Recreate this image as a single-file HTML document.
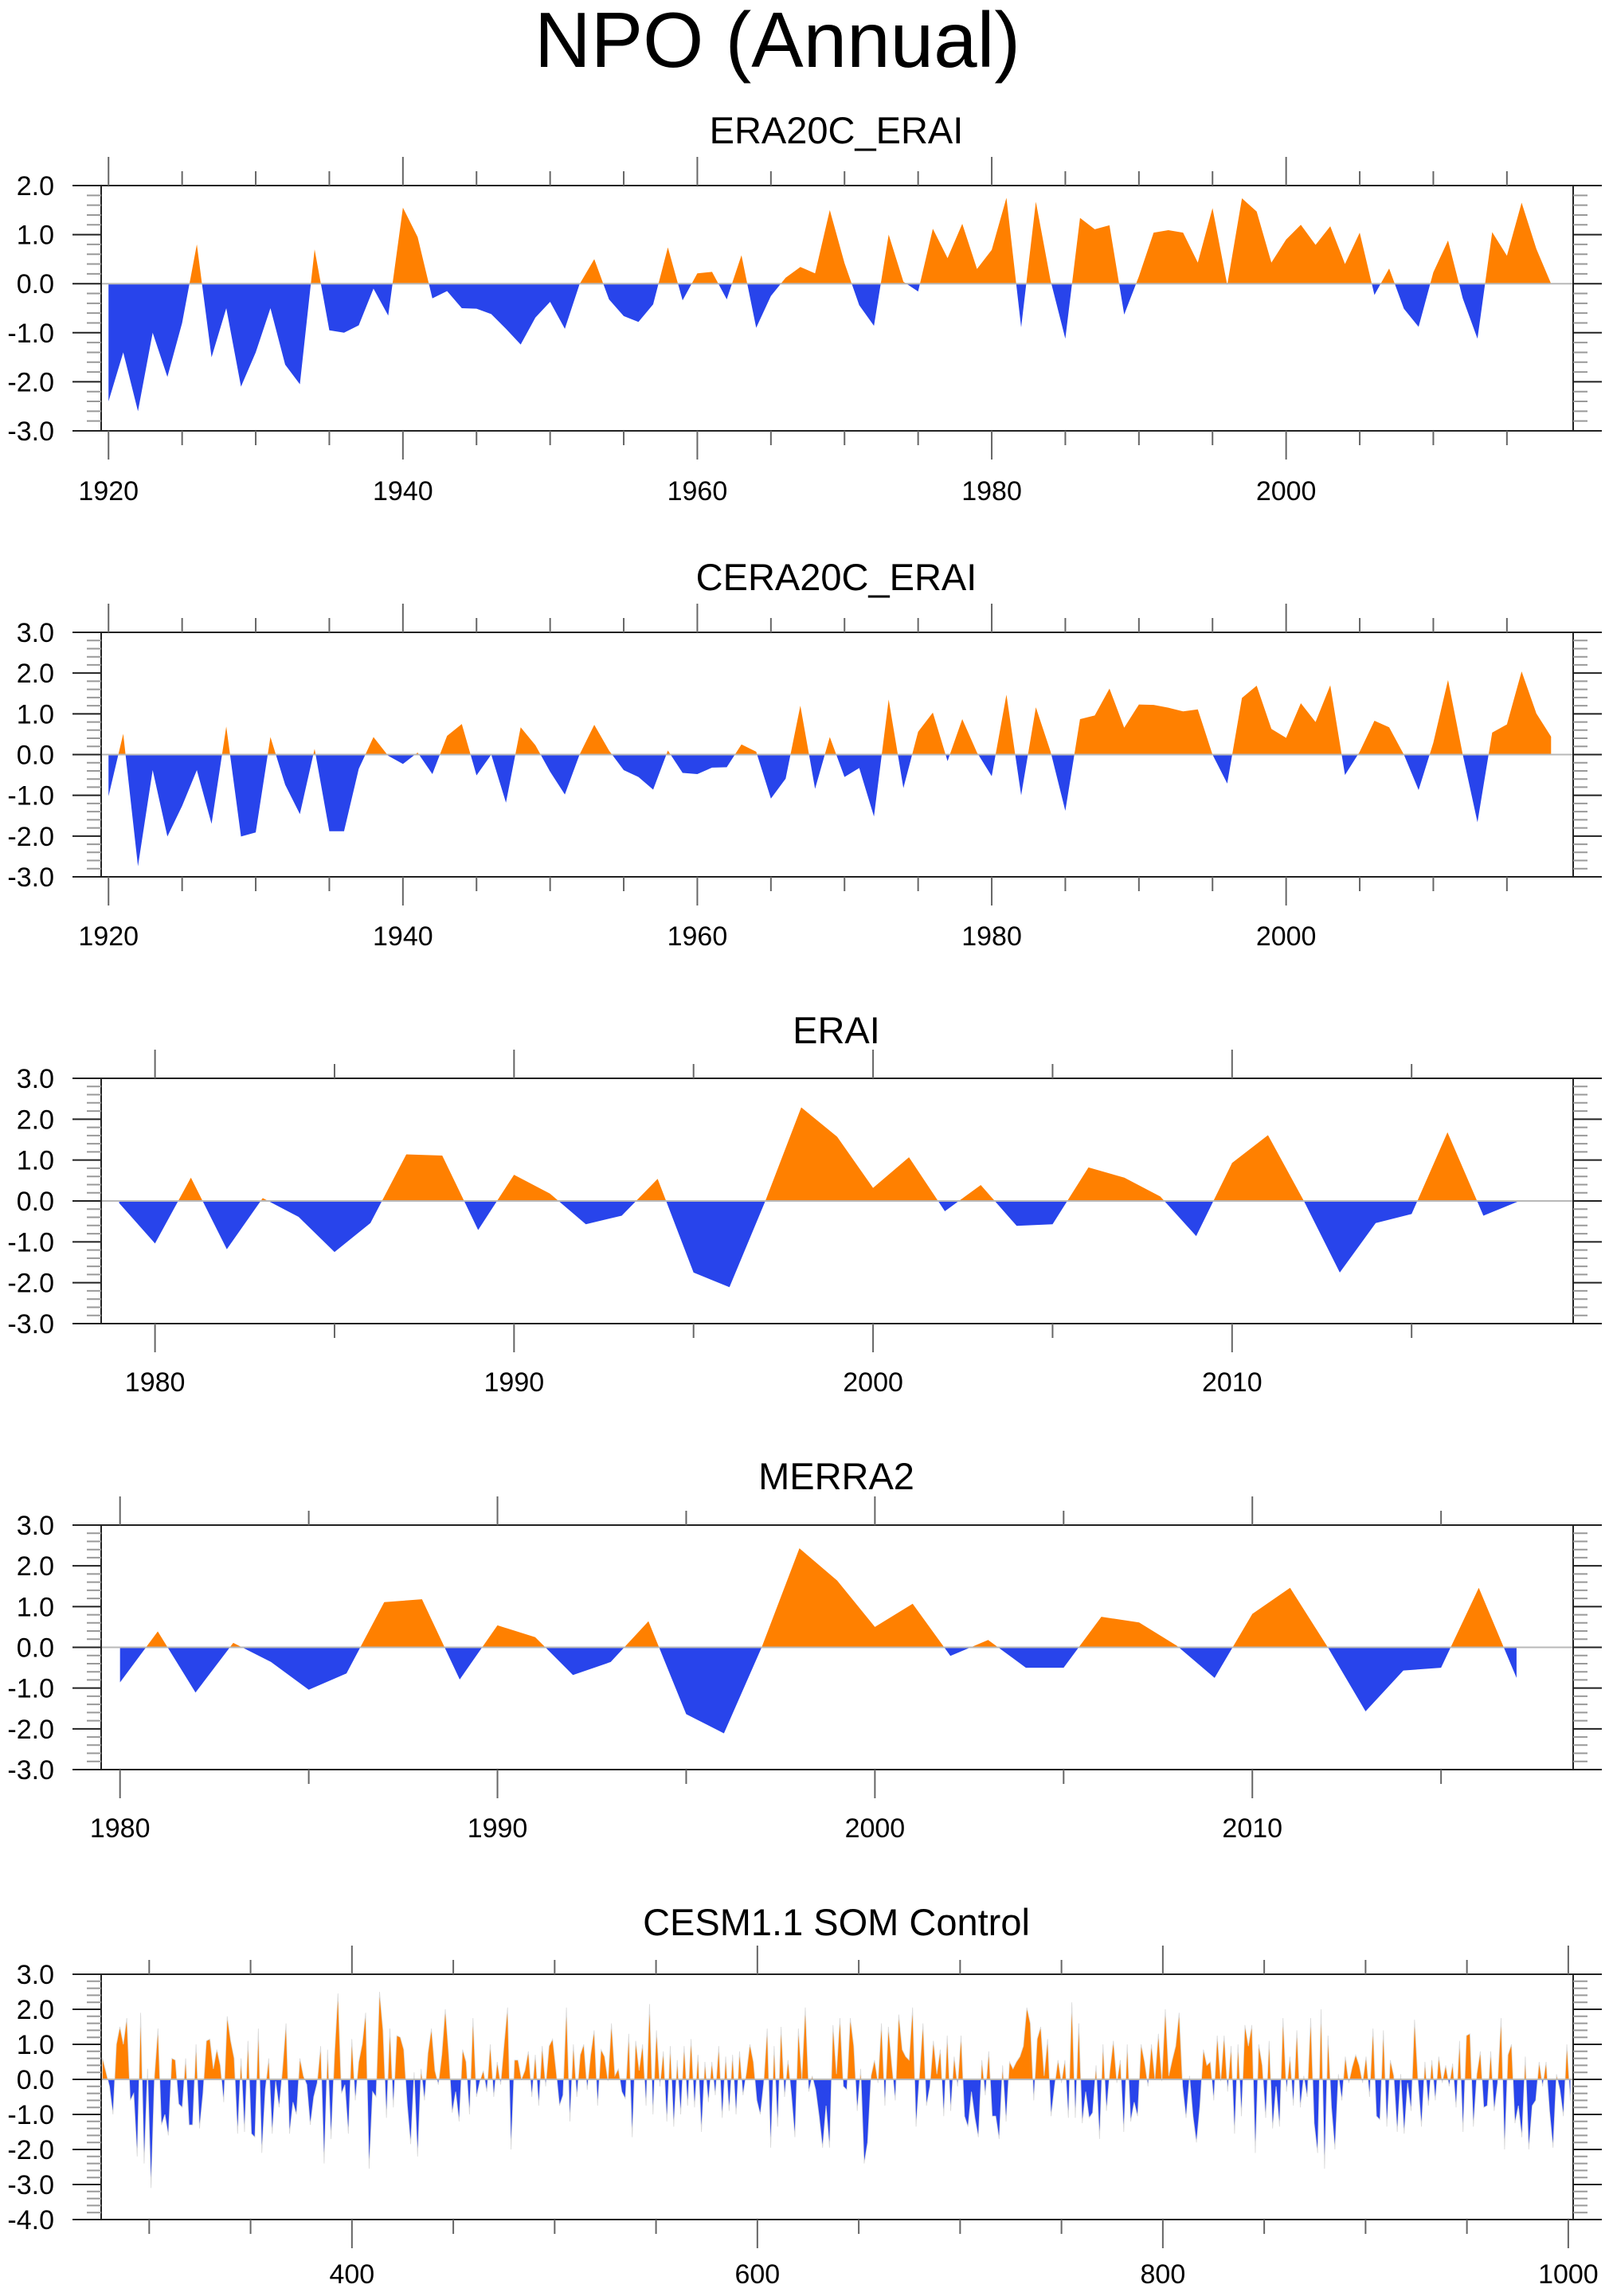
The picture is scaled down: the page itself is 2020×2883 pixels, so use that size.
<!DOCTYPE html>
<html><head><meta charset="utf-8"><title>NPO (Annual)</title>
<style>
html,body{margin:0;padding:0;background:#fff;}
svg{display:block;font-family:"Liberation Sans",Arial,sans-serif;}
</style></head>
<body>
<svg id="fig" xmlns="http://www.w3.org/2000/svg" width="2020" height="2883" viewBox="0 0 2020 2883">
<rect x="0" y="0" width="2020" height="2883" fill="#fff"/>
<text x="976" y="84" font-size="98" text-anchor="middle" fill="#000">NPO (Annual)</text>
</svg>
<script>
// ---- Panel 1: ERA20C_ERAI (1920-2018)
const era20cStart = 1920;
const era20cValues = [-2.4,-1.4,-2.6,-1.0,-1.9,-0.8,0.8,-1.5,-0.5,-2.1,-1.4,-0.5,-1.65,-2.05,0.7,-0.95,-1.0,-0.85,-0.1,-0.65,
1.55,0.95,-0.3,-0.15,-0.5,-0.51,-0.62,-0.92,-1.24,-0.69,-0.37,-0.92,-0.01,0.5,-0.32,-0.66,-0.78,-0.42,0.74,-0.34,
0.21,0.24,-0.32,0.58,-0.9,-0.25,0.12,0.34,0.21,1.5,0.42,-0.44,-0.86,1.0,0.04,-0.16,1.12,0.52,1.22,0.3,
0.69,1.75,-0.89,1.67,0.06,-1.12,1.34,1.11,1.19,-0.63,0.15,1.04,1.09,1.04,0.43,1.54,-0.03,1.74,1.47,0.43,
0.9,1.2,0.79,1.17,0.4,1.04,-0.23,0.31,-0.51,-0.88,0.23,0.88,-0.3,-1.12,1.05,0.57,1.65,0.71,0.0];
// ---- Panel 2: CERA20C_ERAI (1920-2018)
const cera20cStart = 1920;
const cera20cValues = [-1.02,0.51,-2.74,-0.38,-2.01,-1.26,-0.38,-1.7,0.69,-2.01,-1.91,0.43,-0.74,-1.46,0.14,-1.88,-1.88,-0.35,0.43,-0.03,
-0.23,0.05,-0.48,0.46,0.75,-0.51,0.0,-1.18,0.67,0.23,-0.42,-0.98,0.0,0.73,0.1,-0.38,-0.55,-0.86,0.1,-0.45,
-0.48,-0.32,-0.31,0.25,0.07,-1.08,-0.59,1.2,-0.84,0.43,-0.55,-0.33,-1.52,1.35,-0.82,0.56,1.03,-0.16,0.87,0.05,
-0.53,1.47,-1.0,1.16,0.07,-1.38,0.87,0.96,1.62,0.66,1.23,1.22,1.15,1.06,1.11,0.0,-0.71,1.39,1.69,0.63,
0.41,1.26,0.8,1.7,-0.5,0.07,0.83,0.67,0.0,-0.87,0.29,1.83,0.0,-1.66,0.54,0.74,2.04,1.01,0.44];
// ---- Panel 3: ERAI (1979-2018)
const eraiStart = 1979;
const eraiValues = [-0.05,-1.04,0.57,-1.18,0.07,-0.39,-1.25,-0.54,1.14,1.11,-0.71,0.64,0.18,-0.57,-0.36,0.54,-1.75,-2.11,0.0,2.29,
1.57,0.32,1.07,-0.25,0.39,-0.61,-0.57,0.82,0.57,0.11,-0.86,0.93,1.61,0.0,-1.75,-0.54,-0.32,1.68,-0.36,0.0];
// ---- Panel 4: MERRA2 (1980-2017)
const merraStart = 1980;
const merraValues = [-0.86,0.39,-1.11,0.11,-0.36,-1.04,-0.64,1.11,1.18,-0.79,0.54,0.25,-0.68,-0.36,0.64,-1.64,-2.11,0.0,2.43,1.64,
0.5,1.07,-0.21,0.18,-0.5,-0.5,0.75,0.61,0.04,-0.75,0.82,1.46,0.0,-1.57,-0.57,-0.5,1.46,-0.75];
// ---- Panel 5: CESM1.1 SOM Control (years 277-1001, sampled ~2-yearly)
const cesmFirstYear = 277;
const cesmLastYear = 1001;
const cesmValues = [0.6,0.2,-0.2,-1.0,1.0,1.5,1.0,1.75,-0.6,-0.4,-2.2,1.9,-2.4,0.3,-3.1,0.1,1.45,-1.3,-1.0,-1.6,
0.6,0.55,-0.7,-0.8,0.6,-1.3,-1.3,1.0,-1.4,-0.4,1.1,1.15,0.3,0.85,0.4,-0.65,1.8,1.1,0.6,-1.55,
0.6,-1.5,1.1,-1.55,-1.65,1.45,-2.1,-0.3,0.6,-1.55,-0.05,-0.8,0.3,1.6,-1.55,-0.65,-1.0,0.6,0.1,-0.15,
-1.3,-0.5,-0.1,0.95,-2.4,0.85,-1.7,0.7,2.45,-0.4,-0.15,-1.55,1.15,-0.6,0.5,1.0,1.9,-2.55,-0.35,-0.5,
2.5,1.4,-1.1,1.45,-0.8,1.25,1.2,0.85,-0.7,-1.85,0.2,-2.2,0.3,-0.6,0.75,
1.45,0.25,-0.15,0.7,2.0,0.7,-0.95,-0.35,-1.2,0.85,0.5,-1.0,1.75,-0.5,-0.05,0.25,-0.35,1.0,-0.5,0.5,
-0.15,1.0,2.05,-2.0,0.55,0.55,0.0,0.25,0.8,-0.5,0.7,-0.75,0.95,-0.2,0.95,1.15,0.25,-0.75,-0.45,2.05,
-1.2,1.0,-0.5,0.7,1.0,-0.3,0.7,1.4,-0.75,0.85,0.65,-0.05,1.6,0.1,0.3,-0.35,-0.55,1.3,-1.65,1.1,
0.25,1.0,-0.75,2.15,-1.0,1.4,-0.2,0.8,-1.2,0.95,-1.35,0.55,-1.0,0.95,-0.75,1.15,-0.8,0.7,-1.5,0.5,
-0.65,0.5,-0.45,0.95,-1.1,0.65,-0.9,0.7,-1.0,0.8,-0.45,0.2,1.0,0.5,-0.6,-1.0,-0.1,1.45,-1.95,0.95,
-1.35,1.5,-0.5,0.55,-0.45,-1.65,1.45,
0.0,2.05,-0.35,0.1,-0.3,-1.05,-1.95,-0.75,-1.95,1.55,0.15,1.75,-0.2,-0.3,1.75,0.95,-0.9,0.3,-2.4,-1.8,
0.1,0.55,-0.1,1.6,-0.75,1.5,0.4,-0.6,1.85,0.85,0.65,0.55,2.05,-1.35,0.15,1.6,-0.75,-0.2,1.1,0.15,
0.85,-1.05,1.25,-0.9,0.65,-0.2,1.25,-1.05,-1.35,-0.35,-1.1,-1.65,0.55,-0.45,0.8,-1.05,-1.05,-1.7,0.4,-1.2,
0.5,0.3,0.5,0.65,0.95,2.05,1.6,-0.6,1.15,1.5,0.1,1.15,-1.05,-0.2,0.55,-0.1,0.55,-1.1,2.2,-1.1,
1.6,-1.25,-0.35,-1.1,-0.95,0.4,-1.7,1.0,-0.9,0.25,1.1,-0.1,0.55,-1.5,1.0,-1.2,-0.65,-1.05,1.0,0.5,
-0.2,1.0,0.0,1.3,-0.05,2.0,0.1,0.55,0.95,1.9,-0.2,-1.1,0.1,
-1.05,-1.8,-0.75,0.85,0.4,0.5,-0.6,1.25,-0.05,1.25,-0.35,0.95,-1.55,1.0,-1.05,1.55,0.95,1.55,-2.1,1.0,
0.4,-1.1,1.1,-1.4,-0.2,-1.35,1.75,-0.35,0.65,-0.75,1.4,-0.8,0.1,-0.5,1.75,-1.25,-2.1,2.0,-2.55,1.25,
-0.8,-2.0,0.15,-0.6,0.65,-0.1,0.35,0.7,0.4,-0.1,0.65,-0.5,1.45,-1.05,-1.15,1.4,-1.35,0.55,0.1,-1.5,
0.15,-1.55,-0.1,-0.9,1.7,-0.05,-1.35,0.5,-0.75,0.55,-0.6,0.65,-0.1,0.4,-0.2,0.45,-0.8,1.1,-1.5,1.25,
1.3,-1.35,0.15,0.8,-0.8,-0.75,0.8,-0.9,-0.1,1.75,-2.0,0.7,1.0,-1.25,-0.75,-1.65,0.65,-2.0,-0.75,-0.6,
0.5,-0.2,0.5,-0.9,-1.95,0.15,-0.3,-1.05,1.0,-0.6];

const NS = "http://www.w3.org/2000/svg";
const svg = document.getElementById('fig');
const ORANGE = "#ff8000", BLUE = "#2844eb";
const L = 127, R = 1975;
let clipId = 0;

function mk(tag, attrs, parent) {
  const e = document.createElementNS(NS, tag);
  for (const k in attrs) e.setAttribute(k, attrs[k]);
  (parent || svg).appendChild(e);
  return e;
}

function drawPanel(cfg) {
  const g = mk('g', {});
  
  
  const T = cfg.top, B = cfg.bottom;
  const sx = v => L + (v - cfg.xmin) / (cfg.xmax - cfg.xmin) * (R - L);
  const sy = v => T + (cfg.ymax - v) / (cfg.ymax - cfg.ymin) * (B - T);
  const y0 = sy(0);

  const t = mk('text', {x: 1050, y: cfg.titleY, 'font-size': 47, 'text-anchor': 'middle', fill: '#000'}, g);
  t.textContent = cfg.title;
  
  

  let d = 'M' + sx(cfg.xs[0]).toFixed(2) + ',' + y0.toFixed(2);
  for (let i = 0; i < cfg.vals.length; i++) d += 'L' + sx(cfg.xs[i]).toFixed(2) + ',' + sy(cfg.vals[i]).toFixed(2);
  d += 'L' + sx(cfg.xs[cfg.xs.length - 1]).toFixed(2) + ',' + y0.toFixed(2) + 'Z';
  const idA = 'ca' + (clipId++), idB = 'cb' + (clipId++);
  const defs = mk('defs', {}, g);
  const cpA = mk('clipPath', {id: idA}, defs);
  mk('rect', {x: L, y: T, width: R - L, height: y0 - T}, cpA);
  const cpB = mk('clipPath', {id: idB}, defs);
  mk('rect', {x: L, y: y0, width: R - L, height: B - y0}, cpB);
  const pa = mk('path', {d: d, fill: ORANGE, 'clip-path': 'url(#' + idA + ')'}, g);
  
  
  const pb = mk('path', {d: d, fill: BLUE, 'clip-path': 'url(#' + idB + ')'}, g);
  
  
  if (cfg.outline) {
    let d2 = 'M' + sx(cfg.xs[0]).toFixed(2) + ',' + sy(cfg.vals[0]).toFixed(2);
    for (let i = 1; i < cfg.vals.length; i++) d2 += 'L' + sx(cfg.xs[i]).toFixed(2) + ',' + sy(cfg.vals[i]).toFixed(2);
    mk('path', {d: d2, fill: 'none', stroke: '#d8d8d8', 'stroke-width': 0.8}, g);
  }
  const zl = mk('line', {x1: L, x2: R, y1: y0, y2: y0, stroke: '#b8b8b8', 'stroke-width': 2}, g);
  
  

  const fr = mk('rect', {x: L, y: T, width: R - L, height: B - T, fill: 'none', stroke: '#222', 'stroke-width': 2}, g);
  
  

  const ny = Math.round((cfg.ymax - cfg.ymin) / 0.2);
  for (let k = 0; k <= ny; k++) {
    const v = cfg.ymin + k * 0.2;
    const y = sy(v);
    const major = Math.abs(v - Math.round(v)) < 1e-6;
    const len = major ? 36 : 18;
    mk('line', {x1: L - len, x2: L, y1: y, y2: y, stroke: major ? '#222' : '#999', 'stroke-width': 2}, g);
    mk('line', {x1: R, x2: R + len, y1: y, y2: y, stroke: major ? '#222' : '#999', 'stroke-width': 2}, g);
    if (major) {
      const lb = mk('text', {x: 68, y: y + 12, 'font-size': 34, 'text-anchor': 'end', fill: '#000'}, g);
      lb.textContent = Math.round(v).toFixed(1);
      
      
    }
  }
  const startMinor = Math.ceil(cfg.xmin / cfg.minor) * cfg.minor;
  for (let v = startMinor; v <= cfg.xmax; v += cfg.minor) {
    const x = sx(v);
    const major = v % cfg.major === 0;
    const len = major ? 36 : 18;
    mk('line', {x1: x, x2: x, y1: T - len, y2: T, stroke: '#666', 'stroke-width': 2}, g);
    mk('line', {x1: x, x2: x, y1: B, y2: B + len, stroke: '#666', 'stroke-width': 2}, g);
    if (major) {
      const lb = mk('text', {x: x, y: cfg.labelY, 'font-size': 34, 'text-anchor': 'middle', fill: '#000'}, g);
      lb.textContent = String(v);
      
      
    }
  }
}

function yearsFrom(start, n) { const a = []; for (let i = 0; i < n; i++) a.push(start + i); return a; }
function spread(a, b, n) { const r = []; for (let i = 0; i < n; i++) r.push(a + (b - a) * i / (n - 1)); return r; }

drawPanel({name: 'era20c-erai-panel', title: 'ERA20C_ERAI', titleY: 180, top: 233, bottom: 541,
  ymin: -3, ymax: 2, xmin: 1919.5, xmax: 2019.5, minor: 5, major: 20, labelY: 628,
  xs: yearsFrom(era20cStart, era20cValues.length), vals: era20cValues});
drawPanel({name: 'cera20c-erai-panel', title: 'CERA20C_ERAI', titleY: 741, top: 794, bottom: 1101,
  ymin: -3, ymax: 3, xmin: 1919.5, xmax: 2019.5, minor: 5, major: 20, labelY: 1187,
  xs: yearsFrom(cera20cStart, cera20cValues.length), vals: cera20cValues});
drawPanel({name: 'erai-panel', title: 'ERAI', titleY: 1310, top: 1354, bottom: 1662,
  ymin: -3, ymax: 3, xmin: 1978.5, xmax: 2019.5, minor: 5, major: 10, labelY: 1747,
  xs: yearsFrom(eraiStart, eraiValues.length), vals: eraiValues});
drawPanel({name: 'merra2-panel', title: 'MERRA2', titleY: 1870, top: 1915, bottom: 2222,
  ymin: -3, ymax: 3, xmin: 1979.5, xmax: 2018.5, minor: 5, major: 10, labelY: 2307,
  xs: yearsFrom(merraStart, merraValues.length), vals: merraValues});
drawPanel({name: 'cesm-som-control-panel', title: 'CESM1.1 SOM Control', titleY: 2430, top: 2479, bottom: 2787,
  ymin: -4, ymax: 3, xmin: 276.3, xmax: 1002.4, minor: 50, major: 200, labelY: 2867, outline: true,
  xs: spread(cesmFirstYear, cesmLastYear, cesmValues.length), vals: cesmValues});
</script>
</body></html>
